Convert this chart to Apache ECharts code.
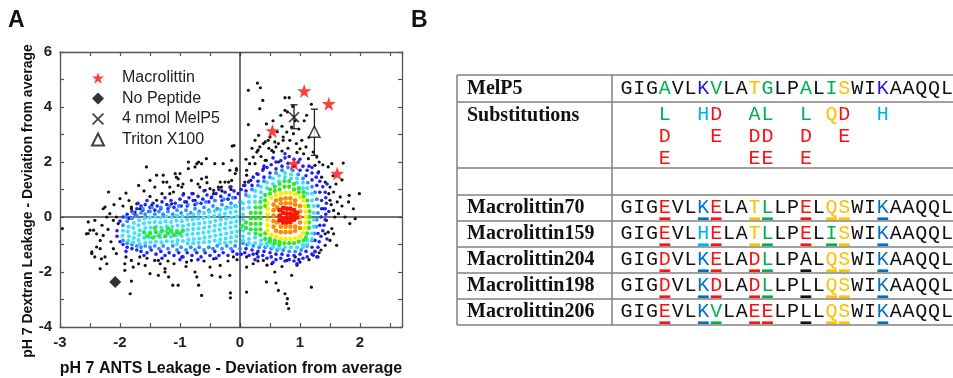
<!DOCTYPE html>
<html><head><meta charset="utf-8">
<script src="https://cdn.jsdelivr.net/npm/echarts@6/dist/echarts.min.js"></script>
<style>html,body{margin:0;padding:0;background:#fff}#c{width:953px;height:378px}</style>
</head><body><div id="c"></div>
<script>
// ---------- DATA ----------
const xTickLabels = [-3, -2, -1, 0, 1, 2];
const yTickLabels = [-4, -2, 0, 2, 4, 6];

const blackPts = [
[0.14,4.61],[0.29,4.87],[0.34,4.7],[0.38,4.24],[0.33,3.94],[0.14,3.36],[-0.13,2.58],[0.75,4.34],[0.82,4.34],[0.79,3.82],[0.68,3.7],[0.88,4.02],[1.19,4.1],[1.11,3.7],[0.44,3.39],[0.5,2.91],[0.42,2.73],[0.33,2.55],[0.28,2.36],[0.22,2.18],[0.16,1.94],[0.11,1.7],[0.08,1.27],[0.18,1.33],[0.28,1.58],[0.39,1.76],[0.44,2.06],[0.56,2.36],[0.64,2.67],[0.72,2.91],[0.78,3.09],[0.86,3.27],[0.89,3.03],[0.83,2.79],[0.94,2.67],[1.0,2.48],[1.03,2.79],[1.06,2.3],[1.14,2.12],[1.22,2.36],[1.28,2.18],[1.25,1.88],[1.31,1.64],[1.36,1.45],[1.42,1.27],[1.47,1.82],[1.53,1.94],[1.5,1.09],[1.56,0.91],[1.67,0.73],[1.72,1.96],[1.81,0.55],[1.82,0.79],[1.99,0.85],[1.89,0.3],[1.92,-0.06],[1.83,-0.24],[1.75,0.0],[1.64,0.12],[1.53,-0.42],[1.56,-0.61],[1.5,-0.85],[1.61,-1.03],[1.42,-1.03],[1.25,-1.27],[1.22,-1.39],[1.19,-2.55],[0.86,-2.12],[0.75,-2.79],[0.79,-2.97],[0.81,-3.33],[0.78,-3.15],[0.64,-2.67],[0.44,-2.36],[0.58,-2.0],[0.39,-1.58],[0.53,-1.7],[0.78,-1.58],[0.92,-1.45],[1.0,-1.64],[0.22,-1.7],[0.11,-2.73],[0.11,-1.82],[0.28,-1.33],[0.11,-1.45],[-0.11,-1.45],[-0.17,-2.12],[-0.16,-2.76],[-0.16,-2.94],[-0.33,-2.18],[-0.47,-2.12],[-0.5,-1.82],[-0.33,-1.76],[-0.44,-1.52],[-0.64,-2.85],[-0.69,-2.48],[-0.72,-2.18],[-0.75,-2.0],[-0.89,-1.64],[-0.97,-1.45],[-0.81,-1.58],[-1.03,-2.48],[-1.12,-2.48],[-1.19,-2.18],[-1.25,-1.88],[-1.33,-1.7],[-1.42,-1.58],[-1.36,-2.12],[-1.5,-2.06],[-1.58,-1.76],[-1.67,-1.45],[-1.78,-1.82],[-1.81,-2.33],[-1.83,-2.79],[-1.92,-1.7],[-2.06,-1.33],[-2.11,-1.15],[-2.22,-1.7],[-2.33,-1.88],[-2.31,-1.52],[-2.42,-1.45],[-2.47,-1.27],[-2.39,-1.09],[-2.33,-0.85],[-2.28,-0.67],[-2.39,-0.61],[-2.5,-0.48],[-2.56,-0.61],[-2.53,-0.18],[-2.42,-0.12],[-2.96,-0.42],[-2.22,0.0],[-2.17,0.12],[-2.06,0.0],[-2.03,-0.24],[-2.25,0.36],[-2.19,0.91],[-2.0,0.67],[-1.9,0.87],[-1.81,0.3],[-1.72,0.48],[-1.67,0.3],[-1.56,1.82],[-1.5,1.33],[-1.42,1.09],[-1.28,1.52],[-1.22,1.27],[-1.17,1.09],[-1.06,1.45],[-1.03,1.15],[-1.11,0.91],[-0.94,0.85],[-0.86,2.0],[-0.81,1.33],[-0.72,1.94],[-0.64,1.94],[-0.67,1.09],[-0.58,0.97],[-0.5,1.03],[-0.42,1.94],[-0.33,1.27],[-0.31,1.09],[-0.25,1.27],[-0.17,1.09],[-0.14,1.33],[-0.08,1.58],[-0.06,1.7],[-0.28,1.94],[-0.44,0.85],[-0.75,0.61],[-0.89,0.55],[-1.14,0.48],[-1.39,0.61],[-1.47,0.42],[-0.56,1.45],[-1.0,1.58],
[1.5,0.61],[1.56,0.24],[1.47,-0.55],[1.42,-0.61],[1.44,-0.12],[1.58,0.0],[1.39,0.3],
[-2.53,-0.6],[-2.44,-0.48],[-2.47,-1.33],[-2.33,-1.15],[-2.25,-1.45],[-1.92,-1.94],[-1.81,-1.58],[-1.69,-1.7],[-1.36,-1.58],[-1.25,-2.0],[-1.69,1.15],[-1.81,0.36],[-1.75,0.18],[-2.28,0.3],[-2.11,-0.12],[-2.3,-0.3],[-1.39,1.52],[-1.28,1.27],[-1.17,0.85],[-1.08,1.58],
[0.25,2.79],[0.31,2.97],[0.39,2.67],[0.47,2.79],[0.58,2.73],[0.72,2.79],[0.75,3.88],[0.3,2.43],[0.53,2.42],[0.42,2.06],[0.25,1.94],[0.11,1.52],[0.64,2.0],[0.14,1.27],[0.06,1.15],[-0.06,1.76],[-0.14,2.06],[-0.1,2.6],[-0.17,1.7],[-0.19,1.27],[-0.36,1.09],[-0.44,0.97],[-0.64,1.39],[-0.75,1.82],[-0.86,1.76],[-0.69,2.0],[-0.56,2.12],[-0.97,1.09],[-1.03,1.39],[-0.78,0.85],[-0.47,0.73],
[0.35,2.2],[0.48,2.5],[0.6,2.55],[0.7,2.4],[0.8,2.5],[0.95,2.35],[1.1,2.55],[1.15,2.9],[0.98,3.2],[1.07,3.5],[0.62,3.1],[0.55,3.5],[0.7,3.3],[0.92,3.5],[0.2,2.5],[0.1,2.1],[1.32,2.0],[1.38,1.9],[1.55,1.5],[1.6,1.2],[1.7,1.35],[1.62,0.55],[1.7,0.4],[1.48,0.85],[1.52,0.45],
[1.32,-1.3],[1.3,-1.45],[1.15,-1.55],[0.95,-1.75],[0.7,-1.8],[0.45,-1.75],[0.3,-1.6],[0.6,-2.4],[1.35,-1.2],
[-0.2,-1.6],[-0.05,-1.55],[-0.6,-1.6],[-0.9,-1.8],[-1.1,-1.7],[-1.55,-1.5],[-1.9,-1.45],[-2.15,-0.9],[-2.2,-0.45],[-1.2,-1.6],
[-1.5,0.75],[-1.3,0.85],[-1.6,0.95],[-0.3,0.95],[-0.15,1.0],[-2.1,0.45],[-1.95,0.4],[-1.85,0.6],[-0.95,1.2],[-0.7,1.2],[-0.55,1.25]
];

const blueLayer = [
[-2.0,-0.15],[-1.95,0.0],[-1.88,0.1],[-1.8,0.2],[-1.72,0.3],[-1.65,0.4],[-1.58,0.45],[-1.5,0.35],[-1.45,0.5],[-1.38,0.4],[-1.3,0.55],[-1.22,0.45],[-1.15,0.6],[-1.08,0.5],[-1.0,0.65],[-0.92,0.55],[-0.85,0.7],[-0.78,0.6],[-0.7,0.75],[-0.62,0.65],[-0.55,0.8],[-0.48,0.7],[-0.4,0.85],[-0.32,0.75],[-0.25,0.9],[-0.18,0.8],[-0.1,0.95],[-0.03,0.85],
[-1.85,-0.05],[-1.75,0.1],[-1.62,0.25],[-1.52,0.2],[-1.42,0.25],[-1.32,0.3],[-1.2,0.3],[-1.1,0.35],[-0.98,0.4],[-0.88,0.4],[-0.75,0.45],[-0.65,0.5],[-0.52,0.55],[-0.42,0.6],[-0.3,0.6],[-0.2,0.65],[-0.08,0.7],
[-1.55,0.6],[-1.25,0.7],[-0.95,0.8],[-0.6,0.95],[-0.35,1.0],[-0.15,1.1],[-1.7,0.5],[-0.8,0.85],
[-2.05,-0.5],[-2.05,-0.7],[-2.0,-0.9],[-1.95,-1.0],[-1.88,-1.1],[-1.8,-1.15],[-1.72,-1.2],[-1.65,-1.25],[-1.55,-1.3],[-1.48,-1.2],[-1.4,-1.35],[-1.32,-1.25],[-1.25,-1.4],[-1.18,-1.3],[-1.1,-1.4],[-1.02,-1.3],[-0.95,-1.45],[-0.88,-1.3],[-0.8,-1.4],[-0.72,-1.3],[-0.65,-1.45],[-0.58,-1.3],[-0.5,-1.4],[-0.42,-1.25],[-0.35,-1.4],[-0.28,-1.3],[-0.2,-1.4],[-0.12,-1.25],[-0.05,-1.35],
[-1.6,-1.4],[-1.0,-1.55],[-0.7,-1.55],[-0.4,-1.5],[-1.3,-1.5],[-1.9,-1.25],
[0.02,1.0],[0.08,1.15],[0.15,1.3],[0.22,1.45],[0.3,1.55],[0.38,1.7],[0.45,1.8],[0.52,1.9],[0.6,2.0],[0.68,2.05],[0.75,2.15],[0.82,2.2],[0.9,2.1],[0.97,2.0],[1.05,1.85],[1.12,1.7],[1.2,1.6],[1.27,1.45],[1.33,1.3],[1.38,1.1],[1.42,0.9],[1.43,0.7],[1.44,0.5],[1.42,0.3],[1.43,0.1],[1.42,-0.1],[1.4,-0.3],[1.38,-0.5],[1.35,-0.7],[1.32,-0.9],[1.3,-1.1],[1.25,-1.25],[1.2,-1.35],[1.12,-1.45],[1.05,-1.5],[0.98,-1.55],[0.9,-1.6],[0.82,-1.55],[0.75,-1.6],[0.68,-1.5],[0.6,-1.55],[0.52,-1.45],[0.45,-1.5],[0.38,-1.4],[0.3,-1.45],[0.22,-1.35],[0.15,-1.4],[0.08,-1.3],[0.02,-1.35],
[0.1,0.95],[0.2,1.15],[0.3,1.3],[0.4,1.45],[0.5,1.6],[0.6,1.75],[0.7,1.85],[0.8,1.95],[0.9,1.85],[1.0,1.7],[1.1,1.5],[1.2,1.35],[1.28,1.15],[1.33,0.9],[1.36,0.6],[1.36,0.3],[1.35,0.0],[1.33,-0.3],[1.3,-0.6],[1.25,-0.85],[1.2,-1.1],[1.1,-1.25],[1.0,-1.35],[0.9,-1.4],[0.8,-1.4],[0.7,-1.35],[0.6,-1.35],[0.5,-1.3],[0.4,-1.25],[0.3,-1.25],[0.2,-1.2],[0.1,-1.15],
[0.55,2.15],[0.75,2.3],[1.0,2.1],[1.15,1.85],[1.3,1.6],[1.45,1.2],[1.48,0.2],[1.45,-0.8],[1.28,-1.45],[0.95,-1.7],[0.55,-1.65],[0.25,-1.55],[1.2,1.8],[0.4,1.85]
];

const azureLayer = [
[-1.95,-0.3],[-1.88,-0.15],[-1.8,-0.05],[-1.72,0.05],[-1.65,0.15],[-1.58,0.1],[-1.5,0.2],[-1.42,0.1],[-1.35,0.2],[-1.28,0.1],[-1.2,0.2],[-1.12,0.1],[-1.05,0.25],[-0.98,0.15],[-0.9,0.25],[-0.82,0.15],[-0.75,0.3],[-0.68,0.2],[-0.6,0.35],[-0.52,0.25],[-0.45,0.4],[-0.38,0.3],[-0.3,0.45],[-0.22,0.35],[-0.15,0.5],[-0.08,0.4],[0.0,0.55],
[-1.9,0.0],[-1.78,0.15],[-1.62,0.3],[-1.47,0.35],[-1.32,0.35],[-1.17,0.4],[-1.02,0.4],[-0.87,0.45],[-0.72,0.5],[-0.57,0.55],[-0.42,0.6],[-0.27,0.65],[-0.12,0.7],
[-1.95,-0.85],[-1.88,-0.95],[-1.8,-1.0],[-1.72,-1.05],[-1.65,-1.1],[-1.58,-1.05],[-1.5,-1.1],[-1.42,-1.05],[-1.35,-1.15],[-1.28,-1.05],[-1.2,-1.15],[-1.12,-1.05],[-1.05,-1.2],[-0.98,-1.1],[-0.9,-1.2],[-0.82,-1.1],[-0.75,-1.2],[-0.68,-1.1],[-0.6,-1.2],[-0.52,-1.1],[-0.45,-1.15],[-0.38,-1.05],[-0.3,-1.15],[-0.22,-1.05],[-0.15,-1.15],[-0.08,-1.05],[0.0,-1.15],
[0.1,0.8],[0.2,1.0],[0.3,1.15],[0.4,1.3],[0.5,1.45],[0.6,1.6],[0.7,1.7],[0.8,1.8],[0.88,1.7],[0.97,1.55],[1.05,1.4],[1.13,1.25],[1.2,1.1],[1.25,0.9],[1.28,0.65],[1.3,0.4],[1.3,0.15],[1.28,-0.1],[1.27,-0.35],[1.24,-0.6],[1.2,-0.85],[1.12,-1.05],[1.02,-1.2],[0.92,-1.25],[0.82,-1.25],[0.72,-1.2],[0.62,-1.2],[0.52,-1.15],[0.42,-1.1],[0.32,-1.1],[0.22,-1.05],[0.12,-1.0],[0.05,-0.95]
];

const cyanLayer = [
[-1.95,-0.5],[-1.96,-0.68],
[-1.86,-0.35],[-1.87,-0.53],[-1.85,-0.7],[-1.86,-0.86],
[-1.77,-0.22],[-1.78,-0.4],[-1.76,-0.58],[-1.77,-0.76],[-1.78,-0.92],
[-1.68,-0.12],[-1.69,-0.3],[-1.67,-0.48],[-1.68,-0.66],[-1.69,-0.84],[-1.67,-0.98],
[-1.59,-0.05],[-1.6,-0.23],[-1.58,-0.4],[-1.59,-0.58],[-1.6,-0.76],[-1.58,-0.94],
[-1.5,-0.02],[-1.51,-0.2],[-1.49,-0.38],[-1.5,-0.56],[-1.51,-0.74],[-1.49,-0.92],
[-1.41,0.0],[-1.42,-0.18],[-1.4,-0.36],[-1.41,-0.54],[-1.42,-0.72],[-1.4,-0.9],
[-1.32,-0.02],[-1.33,-0.2],[-1.31,-0.38],[-1.32,-0.56],[-1.33,-0.74],[-1.31,-0.92],
[-1.23,0.02],[-1.24,-0.16],[-1.22,-0.34],[-1.23,-0.52],[-1.24,-0.7],[-1.22,-0.88],
[-1.14,0.0],[-1.15,-0.18],[-1.13,-0.36],[-1.14,-0.54],[-1.15,-0.72],[-1.13,-0.9],
[-1.05,0.05],[-1.06,-0.13],[-1.04,-0.31],[-1.05,-0.49],[-1.06,-0.67],[-1.04,-0.85],[-1.05,-0.98],
[-0.96,0.03],[-0.97,-0.15],[-0.95,-0.33],[-0.96,-0.51],[-0.97,-0.69],[-0.95,-0.87],
[-0.87,0.08],[-0.88,-0.1],[-0.86,-0.28],[-0.87,-0.46],[-0.88,-0.64],[-0.86,-0.82],[-0.87,-0.96],
[-0.78,0.1],[-0.79,-0.08],[-0.77,-0.26],[-0.78,-0.44],[-0.79,-0.62],[-0.77,-0.8],[-0.78,-0.95],
[-0.69,0.12],[-0.7,-0.06],[-0.68,-0.24],[-0.69,-0.42],[-0.7,-0.6],[-0.68,-0.78],[-0.69,-0.94],
[-0.6,0.15],[-0.61,-0.03],[-0.59,-0.21],[-0.6,-0.39],[-0.61,-0.57],[-0.59,-0.75],[-0.6,-0.92],
[-0.51,0.18],[-0.52,0.0],[-0.5,-0.18],[-0.51,-0.36],[-0.52,-0.54],[-0.5,-0.72],[-0.51,-0.9],
[-0.42,0.22],[-0.43,0.04],[-0.41,-0.14],[-0.42,-0.32],[-0.43,-0.5],[-0.41,-0.68],[-0.42,-0.86],
[-0.33,0.26],[-0.34,0.08],[-0.32,-0.1],[-0.33,-0.28],[-0.34,-0.46],[-0.32,-0.64],[-0.33,-0.82],[-0.34,-0.96],
[-0.24,0.3],[-0.25,0.12],[-0.23,-0.06],[-0.24,-0.24],[-0.25,-0.42],[-0.23,-0.6],[-0.24,-0.78],[-0.25,-0.94],
[-0.15,0.34],[-0.16,0.16],[-0.14,-0.02],[-0.15,-0.2],[-0.16,-0.38],[-0.14,-0.56],[-0.15,-0.74],[-0.16,-0.92],
[-0.06,0.38],[-0.07,0.2],[-0.05,0.02],[-0.06,-0.16],[-0.07,-0.34],[-0.05,-0.52],[-0.06,-0.7],[-0.07,-0.88],
[0.05,0.5],[0.05,0.3],[0.05,0.1],[0.05,-0.1],[0.05,-0.3],[0.05,-0.5],[0.05,-0.7],[0.05,-0.85],
[0.15,0.75],[0.15,0.55],[0.15,0.35],[0.15,-0.6],[0.15,-0.8],[0.15,-0.95],
[0.25,0.95],[0.25,0.75],[0.25,0.55],[0.25,-0.75],[0.25,-0.95],
[0.35,1.1],[0.35,0.9],[0.35,0.7],[0.35,-0.85],[0.35,-1.0],
[0.45,1.25],[0.45,1.05],[0.45,-0.95],[0.45,-1.05],
[0.55,1.4],[0.55,1.2],[0.55,-1.0],[0.55,-1.1],
[0.65,1.5],[0.65,1.3],[0.65,-1.05],[0.65,-1.15],
[0.75,1.6],[0.75,1.45],[0.75,-1.1],
[0.85,1.55],[0.85,1.4],[0.85,-1.1],
[0.95,1.4],[0.95,1.25],[0.95,-1.1],
[1.05,1.25],[1.05,1.05],[1.05,-1.0],[1.05,-1.1],
[1.12,1.05],[1.12,0.85],[1.12,-0.85],[1.12,-1.0],
[1.2,0.85],[1.2,0.6],[1.2,-0.6],[1.2,-0.8],
[1.23,0.4],[1.23,0.15],[1.23,-0.1],[1.23,-0.35]
];

const greenLayer = [
[-1.6,-0.55],[-1.55,-0.7],[-1.5,-0.6],[-1.45,-0.75],[-1.4,-0.55],[-1.35,-0.68],[-1.3,-0.5],[-1.25,-0.7],[-1.2,-0.6],[-1.15,-0.5],[-1.1,-0.65],[-1.05,-0.55],[-1.0,-0.6],[-0.95,-0.5],[-1.42,-0.4],[-1.2,-0.42],
[0.02,-0.35],[0.1,-0.2],[0.1,-0.4],[0.18,-0.05],[0.18,-0.25],[0.18,-0.45],[0.18,0.15],[0.26,0.35],[0.26,0.15],[0.26,-0.05],[0.26,-0.25],[0.26,-0.45],[0.26,-0.6],[0.34,0.55],[0.34,0.35],[0.34,0.15],[0.34,-0.05],[0.34,-0.25],[0.34,-0.45],[0.34,-0.65],[0.42,0.8],[0.42,0.6],[0.42,0.4],[0.42,-0.6],[0.42,-0.8],[0.5,1.0],[0.5,0.85],[0.5,-0.8],[0.5,-0.9],[0.58,1.1],[0.58,0.95],[0.58,-0.85],[0.58,-0.95],[0.66,1.2],[0.66,1.0],[0.66,-0.9],[0.66,-1.0],[0.74,1.3],[0.74,1.1],[0.74,-0.95],[0.82,1.3],[0.82,1.1],[0.82,-0.95],[0.9,1.2],[0.9,1.0],[0.9,-0.95],[0.98,1.05],[0.98,0.9],[0.98,-0.9],[1.06,0.9],[1.06,0.75],[1.06,-0.85],[1.12,0.6],[1.14,0.4],[1.16,0.2],[1.16,0.0],[1.15,-0.2],[1.15,-0.4],[1.12,-0.6],[1.1,-0.75]
];

const yellowLayer = [
[0.46,0.5],[0.46,0.3],[0.46,0.1],[0.46,-0.1],[0.46,-0.3],[0.46,-0.5],[0.52,0.7],[0.52,-0.65],[0.6,0.8],[0.6,-0.72],[0.68,0.85],[0.68,-0.78],[0.76,0.88],[0.76,-0.8],[0.84,0.88],[0.84,-0.8],[0.92,0.82],[0.92,-0.78],[1.0,0.72],[1.0,-0.72],[1.06,0.6],[1.08,0.4],[1.1,0.2],[1.1,0.0],[1.1,-0.2],[1.08,-0.4],[1.05,-0.58]
];

const orangeLayer = [
[0.56,0.45],[0.56,0.25],[0.56,0.05],[0.56,-0.15],[0.56,-0.35],[0.6,0.6],[0.6,-0.5],[0.68,0.65],[0.68,0.5],[0.68,-0.35],[0.68,-0.55],[0.76,0.68],[0.76,0.5],[0.76,-0.35],[0.76,-0.55],[0.84,0.68],[0.84,0.5],[0.84,-0.35],[0.84,-0.55],[0.92,0.6],[0.92,0.45],[0.92,-0.35],[0.92,-0.5],[1.0,0.4],[1.0,0.2],[1.0,0.0],[1.0,-0.2],[1.0,-0.4],[0.62,-0.2],[0.62,0.35]
];

const redLayer = [
[0.66,0.25],[0.66,0.05],[0.66,-0.12],[0.72,0.33],[0.72,0.15],[0.72,-0.05],[0.72,-0.2],[0.78,0.3],[0.78,0.12],[0.78,-0.05],[0.78,-0.2],[0.84,0.3],[0.84,0.12],[0.84,-0.05],[0.84,-0.18],[0.9,0.25],[0.9,0.08],[0.9,-0.1],[0.95,0.15],[0.95,-0.02]
];

const macrolittinPts = [[0.54,3.13],[1.07,4.58],[1.48,4.12],[0.9,1.94],[1.62,1.58]];
const noPeptidePts = [[-2.08,-2.36]];
const melp5Pts = [[0.9,3.63]];
const tritonPts = [[1.24,3.1]];
const errorBars = [[0.9,3.21,4.08],[1.24,2.24,3.92]]; // x, low, high

const legendNames = ['Macrolittin', 'No Peptide', '4 nmol MelP5', 'Triton X100'];

// Panel B
const melp5Seq = 'GIGAVLKVLATGLPALISWIKAAQQL';
const variablePositions = [3, 6, 7, 10, 11, 14, 16, 17, 20];
const substitutionRows = [
  [[3,'L'],[6,'H'],[7,'D'],[10,'A'],[11,'L'],[14,'L'],[16,'Q'],[17,'D'],[20,'H']],
  [[3,'D'],[7,'E'],[10,'D'],[11,'D'],[14,'D'],[17,'E']],
  [[3,'E'],[10,'E'],[11,'E'],[14,'E']]
];
const variantNames = ['Macrolittin70', 'Macrolittin159', 'Macrolittin204', 'Macrolittin198', 'Macrolittin206'];
const variantSeqs = [
  'GIGEVLKELATLLPELQSWIKAAQQL',
  'GIGEVLHELATLLPELISWIKAAQQL',
  'GIGDVLKELADLLPALQSWIKAAQQL',
  'GIGDVLKDLADLLPLLQSWIKAAQQL',
  'GIGEVLKVLAEELPLLQSWIKAAQQL'
];

// ---------- STYLE ----------
const SANS = '"Liberation Sans", Arial, sans-serif';
const C = { red:'#ff1010', green:'#00b050', blue:'#0070c0', blueM:'#1a1ae6', lblue:'#00b0f0', orange:'#ffc000', black:'#111' };
function resColor(ch, pos, opts) {
  if ('DE'.includes(ch)) return C.red;
  if (ch === 'K') return opts.melp ? C.blueM : C.blue;
  if (ch === 'H') return C.lblue;
  if ('TSQ'.includes(ch)) return C.orange;
  if (pos === 14 && opts.black14) return C.black;
  return C.green;
}

const STAR = 'path://M50,2 L61.5,36 L97,36 L68.5,57.5 L79,92 L50,71 L21,92 L31.5,57.5 L3,36 L38.5,36 Z';
const XMARK = 'path://M0,0.1 L0.1,0 L0.5,0.4 L0.9,0 L1,0.1 L0.6,0.5 L1,0.9 L0.9,1 L0.5,0.6 L0.1,1 L0,0.9 L0.4,0.5 Z';

// ---------- TABLE GRAPHICS ----------
const g = [];
const X0 = 457, XC = 612, X1 = 975;
const rowLines = [75, 102, 168, 195, 221, 247, 273, 299, 325];
const lineStyle = { stroke:'#808080', lineWidth:1.5 };
rowLines.forEach(y => g.push({ type:'line', shape:{x1:X0, y1:y, x2:X1, y2:y}, style:lineStyle }));
[X0, XC].forEach(x => g.push({ type:'line', shape:{x1:x, y1:75, x2:x, y2:325}, style:lineStyle }));
const LABEL_FONT = 'bold 20px "Liberation Serif", "Times New Roman", serif';
const SEQ_FONT = '20px "Liberation Mono", "Courier New", monospace';
const SEQ_X = 620, STEP = 12.82;
function label(text, y) {
  g.push({ type:'text', x:467, y:y, style:{ text:text, font:LABEL_FONT, fill:'#111', align:'left', verticalAlign:'middle', textAlign:'left', textVerticalAlign:'middle' } });
}
function ch(c, i, y, color) {
  g.push({ type:'text', x:SEQ_X + STEP*(i+0.5), y:y, style:{ text:c, font:SEQ_FONT, fill:color, align:'center', verticalAlign:'middle', textAlign:'center', textVerticalAlign:'middle' } });
}
label('MelP5', 89);
melp5Seq.split('').forEach((c, i) => ch(c, i, 89, variablePositions.includes(i) ? resColor(c, i, {melp:true}) : C.black));
label('Substitutions', 116);
const subY = [115, 137, 158.5];
substitutionRows.forEach((row, r) => row.forEach(([pos, c]) => ch(c, pos, subY[r], resColor(c, pos, {}))));
variantNames.forEach((name, r) => {
  const top = rowLines[3 + r], bot = rowLines[4 + r];
  const yc = (top + bot) / 2 - 0.5;
  label(name, yc);
  variantSeqs[r].split('').forEach((c, i) => {
    const isVar = variablePositions.includes(i);
    const col = isVar ? resColor(c, i, {black14:true}) : C.black;
    ch(c, i, yc, col);
    if (isVar) g.push({ type:'rect', shape:{ x:SEQ_X + STEP*i + 1, y:bot - 3.6, width:STEP - 2, height:2.6 }, style:{ fill:col } });
  });
});
g.push({ type:'text', x:8, y:21, style:{ text:'A', font:'bold 23px ' + SANS, fill:'#111', align:'left', verticalAlign:'middle', textAlign:'left', textVerticalAlign:'middle' } });
g.push({ type:'text', x:411, y:21, style:{ text:'B', font:'bold 23px ' + SANS, fill:'#111', align:'left', verticalAlign:'middle', textAlign:'left', textVerticalAlign:'middle' } });
g.push({ type:'text', x:28, y:201, rotation:Math.PI/2, style:{ text:'pH 7 Dextran Leakage - Deviation from average', font:'bold 14px ' + SANS, fill:'#111', align:'center', verticalAlign:'middle', textAlign:'center', textVerticalAlign:'middle' } });

// ---------- CHART ----------
const axLine = { show:true, onZero:false, lineStyle:{ color:'#555', width:1.3 } };
const axTick = { show:true, inside:true, length:4, lineStyle:{ color:'#555', width:1.2 } };
const labelStyle = { fontSize:15, fontWeight:'bold', color:'#222', fontFamily:SANS };
function xAx(pos, show) {
  return { type:'value', position:pos, min:-3, max:2.7, interval:0.5, axisLine:axLine, axisTick:axTick, splitLine:{show:false},
    axisLabel: show ? Object.assign({ margin:8, showMaxLabel:true, formatter: v => xTickLabels.includes(v) ? String(v) : '' }, labelStyle) : { show:false },
    name: show ? 'pH 7 ANTS Leakage - Deviation from average' : '', nameLocation:'middle', nameGap:34,
    nameTextStyle:{ fontSize:16, fontWeight:'bold', color:'#111', fontFamily:SANS } };
}
function yAx(pos, show) {
  return { type:'value', position:pos, min:-4, max:6, interval:1, axisLine:axLine, axisTick:axTick, splitLine:{show:false},
    axisLabel: show ? Object.assign({ margin:8, formatter: v => yTickLabels.includes(v) ? String(v) : '' }, labelStyle) : { show:false } };
}
function layer(data, color, size) {
  return { type:'scatter', data:data, symbol:'circle', symbolSize:size, itemStyle:{ color:color, opacity:1 }, silent:true, z:3 };
}

const chart = echarts.init(document.getElementById('c'), null, { renderer:'canvas', width:953, height:378 });
chart.setOption({
  animation:false,
  backgroundColor:'#fff',
  grid:{ left:60, right:551, top:52, bottom:51, containLabel:false, outerBoundsMode:'none' },
  xAxis:[ xAx('bottom', true), xAx('top', false) ],
  yAxis:[ yAx('left', true), yAx('right', false) ],
  legend:{ orient:'vertical', left:91, top:70, padding:0, itemWidth:12, itemHeight:12, itemGap:4.5, selectedMode:false,
    data:legendNames, textStyle:{ fontSize:16, color:'#222', fontFamily:SANS, padding:[0,0,0,13] } },
  graphic:{ elements:g },
  series:[
    { type:'line', data:[[-3,0],[2.7,0]], symbol:'none', lineStyle:{ color:'#444', width:1.3 }, z:1, silent:true },
    { type:'line', data:[[0,-4],[0,6]], symbol:'none', lineStyle:{ color:'#222', width:1.3 }, z:1, silent:true },
    layer(blackPts, '#111', 3.2),
    layer(blueLayer, '#1f1fff', 3.6),
    layer(azureLayer, '#2a8cff', 3.8),
    layer(cyanLayer, '#3fe0ff', 4.1),
    layer(greenLayer, '#2ee82e', 4.3),
    layer(yellowLayer, '#f8ef00', 4.6),
    layer(orangeLayer, '#ff8a00', 4.7),
    layer(redLayer, '#ff1500', 4.9),
    { type:'custom', data:errorBars, z:4, silent:true, renderItem:(params, api) => {
        const x = api.value(0), lo = api.value(1), hi = api.value(2);
        const a = api.coord([x, hi]), b = api.coord([x, lo]);
        const st = { stroke:'#222', lineWidth:1.3 };
        return { type:'group', children:[
          { type:'line', shape:{ x1:a[0], y1:a[1], x2:b[0], y2:b[1] }, style:st },
          { type:'line', shape:{ x1:a[0]-3.5, y1:a[1], x2:a[0]+3.5, y2:a[1] }, style:st },
          { type:'line', shape:{ x1:b[0]-3.5, y1:b[1], x2:b[0]+3.5, y2:b[1] }, style:st } ] };
      } },
    { name:'Macrolittin', type:'scatter', data:macrolittinPts, symbol:STAR, symbolSize:14, itemStyle:{ color:'#ff1010' }, z:5 },
    { name:'No Peptide', type:'scatter', data:noPeptidePts, symbol:'diamond', symbolSize:12, itemStyle:{ color:'#000' }, z:5 },
    { name:'4 nmol MelP5', type:'scatter', data:melp5Pts, symbol:XMARK, symbolSize:11, itemStyle:{ color:'#111' }, z:5 },
    { name:'Triton X100', type:'scatter', data:tritonPts, symbol:'triangle', symbolSize:11, itemStyle:{ color:'#fff', borderColor:'#111', borderWidth:1.6 }, z:5 }
  ]
});
</script></body></html>
